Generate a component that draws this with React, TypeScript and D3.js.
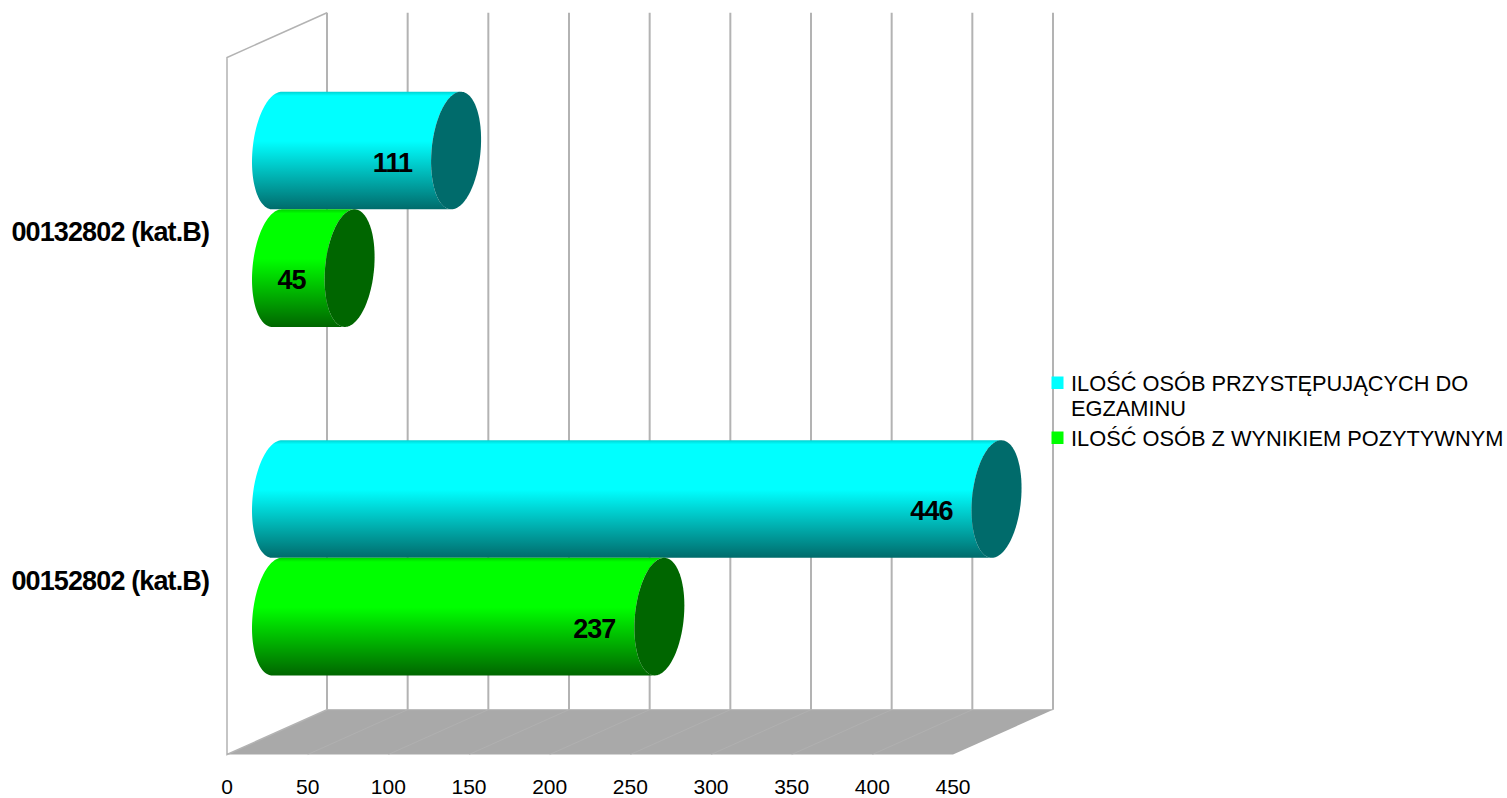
import React from 'react';
import * as d3 from 'd3';

const categories = ['00132802 (kat.B)', '00152802 (kat.B)'];
const seriesNames = ['ILOŚĆ OSÓB PRZYSTĘPUJĄCYCH DO EGZAMINU', 'ILOŚĆ OSÓB Z WYNIKIEM POZYTYWNYM'];
const legendLines = [['ILOŚĆ OSÓB PRZYSTĘPUJĄCYCH DO', 'EGZAMINU'], ['ILOŚĆ OSÓB Z WYNIKIEM POZYTYWNYM']];
const przystepujacy = [111, 446];
const pozytywni = [45, 237];
const ticks = [0, 50, 100, 150, 200, 250, 300, 350, 400, 450];
const seriesValues = [przystepujacy, pozytywni];

const baseColors = ['#00ffff', '#00ff00'];
const darkColors = ['#006b6b', '#006600'];

const width = 1507;
const height = 798;
const front = { left: 227, right: 953, top: 57.5, bottom: 754.5 };
const depth = { x: 100, y: -44.8 };
const gridColor = '#b3b3b3';
const labelFont = '"Liberation Sans", Arial, sans-serif';

const x = d3.scaleLinear().domain([0, 450]).range([front.left, front.right]);
const yCat = d3.scaleBand<string>().domain(categories).range([front.top, front.bottom]).paddingInner(0.325).paddingOuter(0.1625);
const ySeries = d3.scaleBand<string>().domain(seriesNames).range([0, yCat.bandwidth()]);

// the round end of a bar lies in the depth plane, so it is a sheared ellipse
const depthRadius = depth.x / 4;
const slope = depth.y / depth.x;

const ellipseAt = (cx: number, cy: number, halfHeight: number) => {
  const a = -slope * depthRadius;
  const r = Math.sqrt(halfHeight * halfHeight - a * a);
  return (t: number): [number, number] => [
    cx + depthRadius * Math.cos(t),
    cy - a * Math.cos(t) + r * Math.sin(t),
  ];
};

const line = d3.line();

const cylinderPaths = (value: number, cy: number, halfHeight: number) => {
  const a = -slope * depthRadius;
  const r = Math.sqrt(halfHeight * halfHeight - a * a);
  const tTop = Math.atan2(-r, a);
  const x0 = x(0) + depth.x / 2;
  const x1 = x(value) + depth.x / 2;
  const yMid = cy + depth.y / 2;
  const left = ellipseAt(x0, yMid, halfHeight);
  const right = ellipseAt(x1, yMid, halfHeight);
  const n = 72;
  const leftHalf = d3.range(n + 1).map(i => left(tTop - (Math.PI * i) / n));
  const capPts = d3.range(n * 2).map(i => right((Math.PI * i) / n));
  const rightHalf = d3.range(n + 1).map(i => right(tTop - Math.PI + (Math.PI * i) / n));
  return {
    body: line([...leftHalf, ...rightHalf]) + 'Z',
    cap: line(capPts) + 'Z',
    endX: x1,
    midY: yMid,
  };
};

const App: React.FC = () => {
  const floorY = front.bottom + depth.y;
  const topY = front.top + depth.y;
  const floor = line([
    [x(0), front.bottom],
    [x(0) + depth.x, floorY],
    [x(450) + depth.x, floorY],
    [x(450), front.bottom],
  ]) + 'Z';

  return (
    <svg
      width={width}
      height={height}
      style={{ position: 'absolute', left: 0, top: 0, display: 'block', background: '#fff' }}
    >
      <defs>
        {baseColors.map((c, i) => (
          <linearGradient key={c} id={`bar${i}`} x1="0" y1="0" x2="0" y2="1">
            <stop offset="0" stopColor={d3.interpolateRgb(c, darkColors[i])(0.3)} />
            <stop offset="0.035" stopColor={c} />
            <stop offset="0.42" stopColor={c} />
            <stop offset="1" stopColor={darkColors[i]} />
          </linearGradient>
        ))}
      </defs>

      {/* floor */}
      <path d={floor} fill="#a9a9a9" />
      {ticks.slice(1, -1).map(t => (
        <line key={t} x1={x(t)} y1={front.bottom} x2={x(t) + depth.x} y2={floorY} stroke={gridColor} strokeWidth={0.7} />
      ))}
      <line x1={x(0) + depth.x} y1={floorY} x2={x(450) + depth.x} y2={floorY} stroke={gridColor} strokeWidth={1} />

      {/* walls */}
      {ticks.map(t => (
        <line key={t} x1={x(t) + depth.x} y1={topY} x2={x(t) + depth.x} y2={floorY} stroke={gridColor} strokeWidth={2} />
      ))}
      <path
        d={line([[x(0) + depth.x, topY], [x(0), front.top], [x(0), front.bottom], [x(0) + depth.x, floorY]]) as string}
        fill="none"
        stroke={gridColor}
        strokeWidth={1.5}
      />

      {/* bars */}
      {categories.map((cat, ci) =>
        seriesNames.map((name, si) => {
          const v = seriesValues[si][ci];
          const bh = ySeries.bandwidth();
          const cy = (yCat(cat) as number) + (ySeries(name) as number) + bh / 2;
          const p = cylinderPaths(v, cy, bh / 2);
          return (
            <g key={`${cat}${name}`}>
              <path d={p.body} fill={`url(#bar${si})`} />
              <path d={p.cap} fill={darkColors[si]} />
              <text
                x={p.endX - 44}
                y={p.midY + 21}
                textAnchor="end"
                fontFamily={labelFont}
                fontWeight="bold"
                fontSize={27}
                letterSpacing={-0.95}
                fill="#000"
              >
                {v}
              </text>
            </g>
          );
        })
      )}

      {/* category labels */}
      {categories.map(cat => (
        <text
          key={cat}
          x={209}
          y={(yCat(cat) as number) + yCat.bandwidth() / 2 + 9.5}
          textAnchor="end"
          fontFamily={labelFont}
          fontWeight="bold"
          fontSize={27}
          letterSpacing={-0.88}
          fill="#000"
        >
          {cat}
        </text>
      ))}

      {/* value axis */}
      {ticks.map(t => (
        <text key={t} x={x(t)} y={794} textAnchor="middle" fontFamily={labelFont} fontSize={21} fill="#000">
          {t}
        </text>
      ))}

      {/* legend */}
      {seriesNames.map((name, i) => {
        const lineY = [391, 446][i];
        return (
          <g key={name}>
            <rect x={1051.5} y={lineY - 14.5} width={12} height={12.5} fill={baseColors[i]} />
            {legendLines[i].map((l, j) => (
              <text key={l} x={1071} y={lineY + j * 25} fontFamily={labelFont} fontSize={21.8} fill="#000">
                {l}
              </text>
            ))}
          </g>
        );
      })}
    </svg>
  );
};

export default App;
